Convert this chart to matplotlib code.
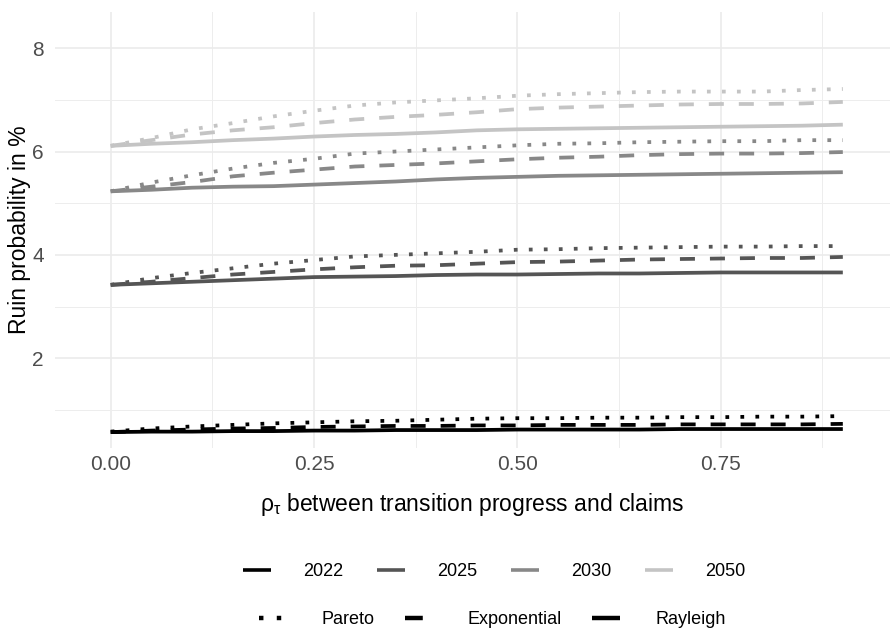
import matplotlib
matplotlib.use('Agg')
import matplotlib.pyplot as plt
from matplotlib.lines import Line2D

plt.rcParams['font.family'] = ['Liberation Sans', 'DejaVu Sans']
plt.rcParams['mathtext.fontset'] = 'custom'
plt.rcParams['mathtext.rm'] = 'Liberation Sans'
plt.rcParams['mathtext.it'] = 'Liberation Sans'
plt.rcParams['mathtext.bf'] = 'Liberation Sans:bold'

# Correlation grid (x axis)
rho = [0.00, 0.05, 0.10, 0.15, 0.20, 0.25, 0.30, 0.35, 0.40, 0.45,
       0.50, 0.55, 0.60, 0.65, 0.70, 0.75, 0.80, 0.85, 0.90]

years = ['2022', '2025', '2030', '2050']
distributions = ['Pareto', 'Exponential', 'Rayleigh']

# Ruin probabilities in %
y2022_pareto = [0.58, 0.64, 0.68, 0.71, 0.74, 0.76, 0.78, 0.79, 0.81, 0.83,
                0.84, 0.84, 0.85, 0.85, 0.86, 0.86, 0.87, 0.87, 0.88]
y2022_expon = [0.57, 0.60, 0.62, 0.64, 0.65, 0.67, 0.68, 0.69, 0.69, 0.70,
               0.70, 0.71, 0.71, 0.71, 0.72, 0.72, 0.72, 0.72, 0.73]
y2022_rayleigh = [0.57, 0.58, 0.58, 0.59, 0.59, 0.60, 0.60, 0.61, 0.61, 0.61,
                  0.62, 0.62, 0.62, 0.62, 0.63, 0.63, 0.63, 0.63, 0.63]

y2025_pareto = [3.42, 3.55, 3.65, 3.74, 3.83, 3.90, 3.97, 4.00, 4.03, 4.06,
                4.10, 4.11, 4.13, 4.14, 4.15, 4.16, 4.16, 4.17, 4.17]
y2025_expon = [3.42, 3.48, 3.55, 3.62, 3.67, 3.72, 3.76, 3.79, 3.80, 3.83,
               3.86, 3.87, 3.89, 3.91, 3.92, 3.93, 3.94, 3.94, 3.96]
y2025_rayleigh = [3.42, 3.45, 3.48, 3.51, 3.54, 3.57, 3.58, 3.59, 3.61, 3.62,
                  3.62, 3.63, 3.64, 3.64, 3.65, 3.66, 3.66, 3.66, 3.66]

y2030_pareto = [5.23, 5.40, 5.54, 5.67, 5.78, 5.86, 5.96, 6.00, 6.04, 6.08,
                6.12, 6.15, 6.16, 6.18, 6.19, 6.20, 6.20, 6.22, 6.22]
y2030_expon = [5.23, 5.32, 5.41, 5.52, 5.59, 5.65, 5.71, 5.74, 5.77, 5.81,
               5.85, 5.88, 5.90, 5.93, 5.95, 5.96, 5.96, 5.97, 5.99]
y2030_rayleigh = [5.23, 5.26, 5.30, 5.32, 5.33, 5.36, 5.39, 5.42, 5.46, 5.49,
                  5.51, 5.53, 5.54, 5.55, 5.56, 5.57, 5.58, 5.59, 5.60]

y2050_pareto = [6.11, 6.26, 6.43, 6.55, 6.68, 6.79, 6.89, 6.95, 6.99, 7.03,
                7.08, 7.11, 7.13, 7.15, 7.16, 7.16, 7.16, 7.19, 7.21]
y2050_expon = [6.11, 6.22, 6.33, 6.41, 6.47, 6.55, 6.62, 6.67, 6.71, 6.76,
               6.82, 6.85, 6.87, 6.89, 6.91, 6.92, 6.92, 6.93, 6.96]
y2050_rayleigh = [6.11, 6.15, 6.18, 6.22, 6.25, 6.29, 6.32, 6.34, 6.37, 6.41,
                  6.43, 6.44, 6.45, 6.46, 6.47, 6.48, 6.49, 6.50, 6.52]

series = {
    '2022': [y2022_pareto, y2022_expon, y2022_rayleigh],
    '2025': [y2025_pareto, y2025_expon, y2025_rayleigh],
    '2030': [y2030_pareto, y2030_expon, y2030_rayleigh],
    '2050': [y2050_pareto, y2050_expon, y2050_rayleigh],
}

# grey scale per year, dash pattern per distribution
year_colors = {'2022': '#000000', '2025': '#555555', '2030': '#888888', '2050': '#c4c4c4'}
dist_dashes = {'Pareto': (1, 3), 'Exponential': (4, 4), 'Rayleigh': None}

fig = plt.figure(figsize=(8.9, 6.33), dpi=100)
ax = fig.add_axes([55 / 890, 1 - 448 / 633, 835 / 890, 436 / 633])

lw = 2.7
for year in years:
    for dist, vals in zip(distributions, series[year]):
        line, = ax.plot(rho, vals, color=year_colors[year], lw=lw,
                        solid_capstyle='butt', dash_capstyle='butt')
        if dist_dashes[dist] is not None:
            line.set_dashes(dist_dashes[dist])

ax.set_xlim(-0.0685, 0.958)
ax.set_ylim(0.263, 8.70)
ax.set_xticks([0.0, 0.25, 0.5, 0.75])
ax.set_xticklabels(['0.00', '0.25', '0.50', '0.75'])
ax.set_xticks([0.125, 0.375, 0.625, 0.875], minor=True)
ax.set_yticks([2, 4, 6, 8])
ax.set_yticks([1, 3, 5, 7], minor=True)

# minimal theme: light grid, no spines, no ticks
ax.grid(True, which='major', color='#ebebeb', lw=1.2)
ax.grid(True, which='minor', color='#ededed', lw=0.7)
ax.set_axisbelow(True)
for s in ax.spines.values():
    s.set_visible(False)
ax.tick_params(which='both', length=0, labelsize=15, labelcolor='#4d4d4d')
ax.tick_params(axis='y', pad=8)
ax.tick_params(axis='x', pad=5)

ax.set_xlabel(r'$\rho_\tau$ between transition progress and claims', fontsize=16.5, labelpad=12)
ax.set_ylabel('Ruin probability in %', fontsize=16.5, labelpad=1)

# legend rows: colour by year, linetype by distribution
year_handles = [Line2D([], [], color=year_colors[y], lw=2.6, solid_capstyle='butt') for y in years]
leg1 = fig.legend(year_handles, years, loc='center', bbox_to_anchor=(494 / 890, 1 - 572 / 633),
                  ncol=4, frameon=False, fontsize=13, handlelength=1.55, handletextpad=1.8,
                  columnspacing=1.85, borderpad=0, borderaxespad=0)

dist_handles = []
for d in distributions:
    h = Line2D([], [], color='black', lw=3.2, solid_capstyle='butt', dash_capstyle='butt')
    if dist_dashes[d] is not None:
        h.set_dashes(dist_dashes[d])
    dist_handles.append(h)
leg2 = fig.legend(dist_handles, distributions, loc='center', bbox_to_anchor=(492 / 890, 1 - 620 / 633),
                  ncol=3, frameon=False, fontsize=13, handlelength=1.55, handletextpad=1.95,
                  columnspacing=1.65, borderpad=0, borderaxespad=0)

fig.savefig('out.png', dpi=100)
